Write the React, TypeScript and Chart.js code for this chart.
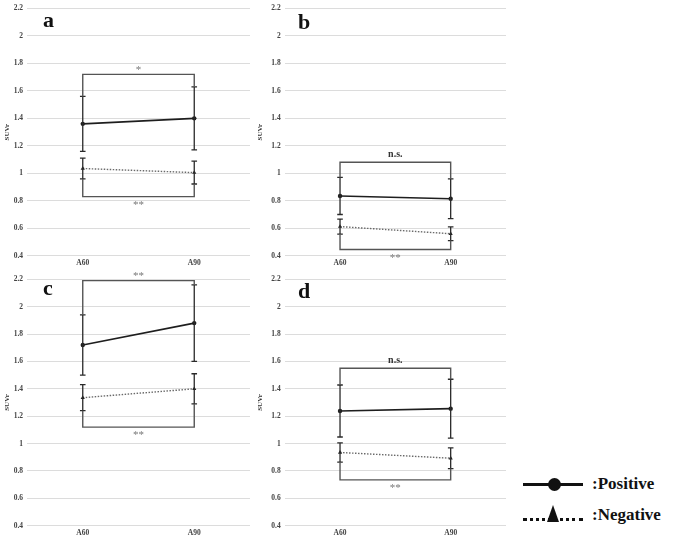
import React, { useEffect, useRef } from "react";
import { Chart, registerables } from "chart.js";
Chart.register(...registerables);

const categories = ["A60", "A90"];
const yTicks = [0.4, 0.6, 0.8, 1, 1.2, 1.4, 1.6, 1.8, 2, 2.2];
const yTickLabels = ["0.4", "0.6", "0.8", "1", "1.2", "1.4", "1.6", "1.8", "2", "2.2"];
const yAxisTitle = "SUVr";
const panelLetters = ["a", "b", "c", "d"];
const seriesNames = [":Positive", ":Negative"];

// panel a
const posMeanA = [1.36, 1.4];
const posSdA = [0.2, 0.23];
const negMeanA = [1.035, 1.005];
const negSdA = [0.075, 0.083];
// panel b
const posMeanB = [0.835, 0.815];
const posSdB = [0.135, 0.145];
const negMeanB = [0.612, 0.56];
const negSdB = [0.055, 0.05];
// panel c
const posMeanC = [1.72, 1.88];
const posSdC = [0.22, 0.28];
const negMeanC = [1.335, 1.4];
const negSdC = [0.095, 0.11];
// panel d
const posMeanD = [1.238, 1.255];
const posSdD = [0.19, 0.215];
const negMeanD = [0.935, 0.893];
const negSdD = [0.07, 0.076];

// significance brackets per panel
const bracketTop = [1.72, 1.08, 2.19, 1.55];
const bracketBottom = [0.83, 0.445, 1.12, 0.735];
const bracketTopLabel = ["*", "n.s.", "**", "n.s."];
const bracketBottomLabel = ["**", "**", "**", "**"];

const series = [
  { pos: posMeanA, posSd: posSdA, neg: negMeanA, negSd: negSdA },
  { pos: posMeanB, posSd: posSdB, neg: negMeanB, negSd: negSdB },
  { pos: posMeanC, posSd: posSdC, neg: negMeanC, negSd: negSdC },
  { pos: posMeanD, posSd: posSdD, neg: negMeanD, negSd: negSdD },
];

// layout (pixels)
const layouts = [
  { left: 0, top: 0, w: 258, h: 270, aL: 27, aR: 250, aT: 8.3, aB: 255.7, lx: 43, ly: 27 },
  { left: 253, top: 0, w: 260, h: 270, aL: 31.7, aR: 253, aT: 8.3, aB: 255.7, lx: 45, ly: 29 },
  { left: 0, top: 270, w: 258, h: 268, aL: 27, aR: 250, aT: 9.3, aB: 255.7, lx: 43, ly: 25 },
  { left: 253, top: 270, w: 260, h: 268, aL: 31.7, aR: 253, aT: 9.3, aB: 255.7, lx: 45, ly: 28 },
];

const FONT = "'Liberation Serif', 'DejaVu Serif', serif";

function Panel({ idx }: { idx: number }) {
  const ref = useRef<HTMLCanvasElement | null>(null);
  useEffect(() => {
    const L = layouts[idx];
    const S = series[idx];
    const errorPlugin = {
      id: "errbars" + idx,
      afterDatasetsDraw(chart: any) {
        const { ctx } = chart;
        const x = chart.scales.x;
        const y = chart.scales.y;
        const sets = [
          { m: S.pos, sd: S.posSd },
          { m: S.neg, sd: S.negSd },
        ];
        ctx.save();
        ctx.strokeStyle = "#2a2a2a";
        ctx.lineWidth = 1.3;
        sets.forEach((s) => {
          s.m.forEach((v, j) => {
            const px = x.getPixelForValue(j);
            const t = y.getPixelForValue(v + s.sd[j]);
            const b = y.getPixelForValue(v - s.sd[j]);
            ctx.beginPath();
            ctx.moveTo(px, t);
            ctx.lineTo(px, b);
            ctx.moveTo(px - 2.8, t);
            ctx.lineTo(px + 2.8, t);
            ctx.moveTo(px - 2.8, b);
            ctx.lineTo(px + 2.8, b);
            ctx.stroke();
          });
        });
        // brackets
        const x0 = x.getPixelForValue(0);
        const x1 = x.getPixelForValue(1);
        const yt = y.getPixelForValue(bracketTop[idx]);
        const yb = y.getPixelForValue(bracketBottom[idx]);
        ctx.strokeStyle = "#555";
        ctx.lineWidth = 1.4;
        ctx.beginPath();
        ctx.moveTo(x0, y.getPixelForValue(S.pos[0] + S.posSd[0]));
        ctx.lineTo(x0, yt);
        ctx.lineTo(x1, yt);
        ctx.lineTo(x1, y.getPixelForValue(S.pos[1] + S.posSd[1]));
        ctx.stroke();
        ctx.beginPath();
        ctx.moveTo(x0, y.getPixelForValue(S.neg[0] - S.negSd[0]));
        ctx.lineTo(x0, yb);
        ctx.lineTo(x1, yb);
        ctx.lineTo(x1, y.getPixelForValue(S.neg[1] - S.negSd[1]));
        ctx.stroke();
        const xm = (x0 + x1) / 2;
        ctx.textAlign = "center";
        ctx.textBaseline = "alphabetic";
        const tl = bracketTopLabel[idx];
        if (tl === "n.s.") {
          ctx.fillStyle = "#333";
          ctx.font = "bold 10px " + FONT;
          ctx.fillText(tl, xm, yt - 5);
        } else {
          ctx.fillStyle = "#777";
          ctx.font = "11px " + FONT;
          ctx.fillText(tl, xm, yt - 1.5);
        }
        ctx.fillStyle = "#777";
        ctx.font = "11px " + FONT;
        ctx.fillText(bracketBottomLabel[idx], xm, yb + 11);
        // panel letter
        ctx.fillStyle = "#111";
        ctx.textAlign = "left";
        ctx.font = "bold 22px " + FONT;
        ctx.fillText(panelLetters[idx], L.lx, L.ly);
        ctx.restore();
      },
    };
    const chart = new Chart(ref.current as HTMLCanvasElement, {
      type: "line",
      data: {
        labels: categories,
        datasets: [
          {
            label: seriesNames[0],
            data: S.pos,
            borderColor: "#1e1e1e",
            backgroundColor: "#1e1e1e",
            borderWidth: 1.6,
            pointStyle: "circle",
            pointRadius: 2.2,
            pointBorderWidth: 0,
          },
          {
            label: seriesNames[1],
            data: S.neg,
            borderColor: "#6a6a6a",
            backgroundColor: "#222",
            pointBorderColor: "#222",
            borderWidth: 1.4,
            borderDash: [1.5, 1.5],
            pointStyle: "triangle",
            pointRadius: 2.4,
            pointBorderWidth: 0,
          },
        ],
      },
      options: {
        responsive: false,
        animation: false,
        devicePixelRatio: 1,
        events: [],
        layout: { padding: { left: 0, right: L.w - L.aR, top: L.aT, bottom: 0 } },
        plugins: { legend: { display: false }, tooltip: { enabled: false } },
        scales: {
          x: {
            type: "category",
            offset: true,
            grid: { display: false, drawTicks: false },
            border: { display: false },
            ticks: { font: { family: FONT, size: 7.5, weight: "bold" }, color: "#444", padding: 3, maxRotation: 0 },
            afterFit: (s: any) => {
              s.height = L.h - L.aB;
            },
          },
          y: {
            min: 0.4,
            max: 2.2,
            afterBuildTicks: (s: any) => {
              s.ticks = yTicks.map((v) => ({ value: v }));
            },
            ticks: {
              callback: (v: any) => yTickLabels[yTicks.indexOf(v)],
              font: { family: FONT, size: 7.5, weight: "bold" },
              color: "#444",
              padding: 4,
              autoSkip: false,
            },
            grid: { color: "#dcdcdc", drawTicks: false, lineWidth: 1 },
            border: { display: false },
            title: {
              display: true,
              text: yAxisTitle,
              font: { family: FONT, size: 7, weight: "bold" },
              color: "#333",
              padding: { top: 3, bottom: 0 },
            },
            afterFit: (s: any) => {
              s.width = L.aL;
            },
          },
        },
      } as any,
      plugins: [errorPlugin],
    });
    return () => chart.destroy();
  }, [idx]);
  const L = layouts[idx];
  return (
    <canvas
      ref={ref}
      width={L.w}
      height={L.h}
      style={{ position: "absolute", left: L.left, top: L.top, width: L.w, height: L.h }}
    />
  );
}

export default function App() {
  const textStyle: React.CSSProperties = {
    position: "absolute",
    left: 592,
    fontFamily: FONT,
    fontWeight: "bold",
    fontSize: 17,
    lineHeight: "20px",
    color: "#111",
    whiteSpace: "nowrap",
  };
  return (
    <div style={{ position: "fixed", left: 0, top: 0, width: 676, height: 538, background: "#fff", overflow: "hidden" }}>
      {[0, 1, 2, 3].map((i) => (
        <Panel key={i} idx={i} />
      ))}
      {/* legend */}
      <div style={{ position: "absolute", left: 523, top: 482.5, width: 60, height: 0, borderTop: "3px solid #111" }} />
      <div style={{ position: "absolute", left: 547.5, top: 477.5, width: 13, height: 13, borderRadius: "50%", background: "#111" }} />
      <div style={{ ...textStyle, top: 474 }}>{seriesNames[0]}</div>
      <div style={{ position: "absolute", left: 523, top: 518, width: 60, height: 0, borderTop: "3px dotted #111" }} />
      <div
        style={{
          position: "absolute",
          left: 547,
          top: 505,
          width: 0,
          height: 0,
          borderLeft: "6.5px solid transparent",
          borderRight: "6.5px solid transparent",
          borderBottom: "17px solid #111",
        }}
      />
      <div style={{ ...textStyle, top: 505 }}>{seriesNames[1]}</div>
    </div>
  );
}
